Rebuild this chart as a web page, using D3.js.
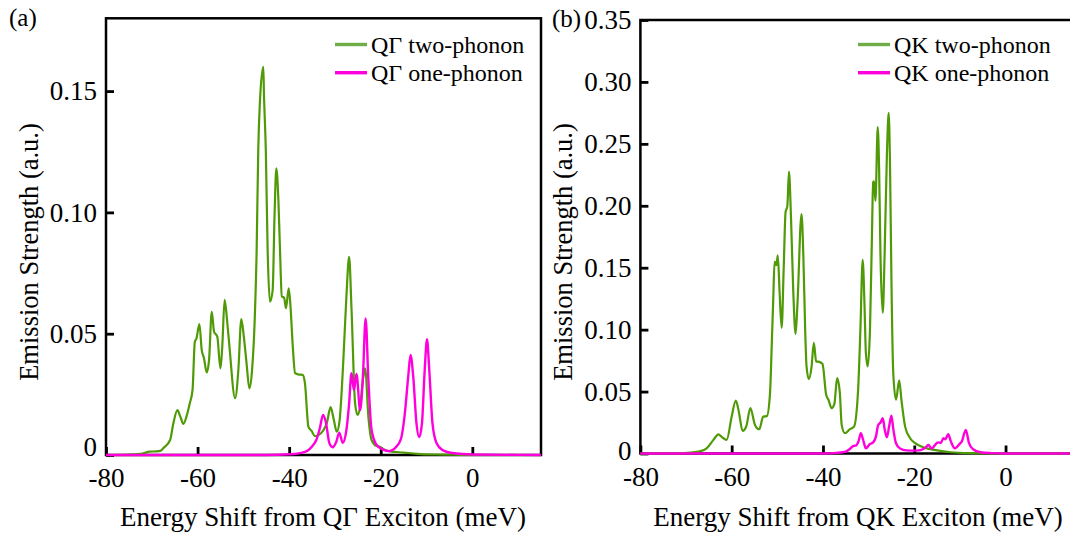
<!DOCTYPE html>
<html>
<head>
<meta charset="utf-8">
<script src="https://cdn.jsdelivr.net/npm/d3@7"></script>
<style>
  body { margin: 0; background: #fff; }
  svg text { font-family: "Liberation Serif", "DejaVu Serif", "Noto Serif", serif; }
</style>
</head>
<body>
<script>
const width = 1070;
const height = 537;

// energy shift (meV), emission strength (a.u.)
const gammaTwoPhonon = [
  [-80, 0], [-75, 0.0002], [-72, 0.0006], [-70.5, 0.0014], [-69, 0.0015], [-68, 0.0018],
  [-67.5, 0.0028], [-66, 0.0062], [-65.3, 0.013], [-64.4, 0.0185], [-63.8, 0.016], [-63.1, 0.0128],
  [-62.4, 0.016], [-61.7, 0.0213], [-61.1, 0.0268], [-60.6, 0.0467], [-60.25, 0.048], [-59.6, 0.054],
  [-59.1, 0.0433], [-58.6, 0.0399], [-58.0, 0.034], [-57.5, 0.039], [-56.9, 0.059], [-56.4, 0.0508],
  [-55.7, 0.0488], [-55.0, 0.0357], [-54.6, 0.045], [-54.1, 0.0639], [-53.5, 0.0543], [-53.1, 0.046],
  [-51.8, 0.0234], [-51.1, 0.035], [-50.45, 0.056], [-49.9, 0.0488], [-49.3, 0.0378], [-48.7, 0.0275],
  [-48.1, 0.0351], [-47.5, 0.057], [-47.1, 0.0845], [-46.75, 0.1257], [-46.4, 0.145], [-45.65, 0.160],
  [-45.5, 0.1485], [-45.1, 0.1257], [-44.7, 0.0845], [-44.2, 0.0632], [-43.6, 0.068], [-43.2, 0.0982],
  [-42.8, 0.1182], [-42.35, 0.105], [-42.0, 0.0845], [-41.6, 0.0653], [-41.1, 0.0648], [-40.7, 0.0605],
  [-40.1, 0.0687], [-39.7, 0.0611], [-39.25, 0.046], [-38.7, 0.0337], [-38.0, 0.0332], [-37.05, 0.033],
  [-36.55, 0.0295], [-35.8, 0.0117], [-35.1, 0.0099], [-34.4, 0.0078], [-33.6, 0.0082], [-32.6, 0.01],
  [-31.8, 0.013], [-30.95, 0.0197], [-30.3, 0.015], [-29.6, 0.0096], [-29.0, 0.014], [-28.2, 0.0378],
  [-27.5, 0.0653], [-26.9, 0.0817], [-26.4, 0.0611], [-25.6, 0.0213], [-25.05, 0.0165], [-24.5, 0.02],
  [-23.8, 0.0323], [-23.4, 0.0357], [-22.7, 0.0158], [-22.0, 0.0062], [-20.9, 0.0037], [-20.2, 0.0034],
  [-19.5, 0.0025], [-18, 0.0015], [-15, 0.001], [-12, 0.0005], [-8, 0.0002], [-4, 0.0001], [0, 0], [15, 0]
];

const gammaOnePhonon = [
  [-80, 0], [-45, 0], [-40, 0.0003], [-37.6, 0.0008], [-36, 0.0018], [-35, 0.0035], [-34, 0.0065],
  [-33.3, 0.011], [-32.6, 0.0165], [-32.0, 0.0137], [-31.2, 0.0048], [-30.5, 0.0032], [-29.7, 0.0055],
  [-29.05, 0.0092], [-28.3, 0.005], [-27.5, 0.0103], [-26.9, 0.0213], [-26.4, 0.0337], [-25.85, 0.0268],
  [-25.3, 0.0334], [-24.5, 0.0185], [-23.9, 0.032], [-23.3, 0.0563], [-22.7, 0.031], [-22.0, 0.0103],
  [-20.9, 0.0041], [-19.5, 0.0022], [-18.2, 0.0016], [-16.8, 0.003], [-15.6, 0.0065], [-14.8, 0.016],
  [-14.0, 0.0323], [-13.5, 0.0412], [-12.9, 0.0323], [-12.2, 0.0131], [-11.6, 0.0073], [-11.0, 0.013],
  [-10.4, 0.035], [-9.9, 0.0477], [-9.4, 0.035], [-8.7, 0.013], [-7.8, 0.0048], [-6.5, 0.002],
  [-4, 0.0007], [0, 0.0002], [15, 0]
];

const kTwoPhonon = [
  [-80, 0], [-72, 0.0002], [-69, 0.0008], [-67, 0.0018], [-65.5, 0.0042], [-64, 0.011], [-62.9, 0.0155],
  [-62.2, 0.0135], [-61.1, 0.011], [-60, 0.0298], [-59.1, 0.0428], [-58.5, 0.035], [-57.6, 0.0182],
  [-56.8, 0.022], [-55.9, 0.0366], [-54.9, 0.0231], [-53.95, 0.0196], [-53.1, 0.0298], [-52.3, 0.0302],
  [-51.6, 0.0488], [-51.2, 0.09], [-50.9, 0.124], [-50.6, 0.155], [-50.2, 0.152], [-49.9, 0.16],
  [-49.5, 0.13], [-49.05, 0.1015], [-48.6, 0.15], [-48.2, 0.1946], [-47.8, 0.2], [-47.45, 0.2276],
  [-47.0, 0.19], [-46.5, 0.13], [-46.0, 0.0965], [-45.6, 0.12], [-44.7, 0.1933], [-44.3, 0.16],
  [-43.9, 0.1], [-43.6, 0.0703], [-43.1, 0.0601], [-42.5, 0.07], [-42.0, 0.0893], [-41.5, 0.0744],
  [-40.8, 0.074], [-40.1, 0.0723], [-39.3, 0.0474], [-38.8, 0.0434], [-38.1, 0.0366], [-37.5, 0.04],
  [-36.9, 0.0609], [-36.3, 0.0488], [-35.9, 0.0231], [-35.2, 0.0164], [-34.1, 0.0196], [-33.2, 0.0217],
  [-32.3, 0.0515], [-31.8, 0.1], [-31.3, 0.1563], [-30.9, 0.12], [-30.6, 0.0812], [-30.2, 0.0703],
  [-29.7, 0.1], [-29.3, 0.17], [-29.0, 0.219], [-28.8, 0.2197], [-28.5, 0.204], [-28.0, 0.2635],
  [-27.7, 0.23], [-27.4, 0.16], [-26.9, 0.1136], [-26.5, 0.16], [-26.0, 0.24], [-25.6, 0.275],
  [-25.3, 0.23], [-25.0, 0.14], [-24.6, 0.065], [-24.0, 0.0434], [-23.3, 0.059], [-22.8, 0.043],
  [-22, 0.0217], [-20.9, 0.0123], [-19.8, 0.0083], [-18, 0.005], [-15, 0.0025], [-12, 0.001],
  [-8, 0.0003], [0, 0], [15, 0]
];

const kOnePhonon = [
  [-80, 0], [-40, 0], [-37, 0.0005], [-35, 0.0015], [-34.2, 0.0034], [-33.4, 0.006], [-32.7, 0.0066],
  [-32.2, 0.01], [-31.7, 0.0164], [-31.2, 0.011], [-30.6, 0.0042], [-29.7, 0.0077], [-29.0, 0.009],
  [-28.4, 0.0136], [-27.9, 0.023], [-27.4, 0.025], [-26.9, 0.0285], [-26.5, 0.02], [-26.0, 0.0131],
  [-25.5, 0.022], [-25.0, 0.0306], [-24.6, 0.02], [-24, 0.0083], [-23.1, 0.004], [-21.7, 0.0025],
  [-19.5, 0.0023], [-17.7, 0.0042], [-16.9, 0.0069], [-16.2, 0.004], [-15.1, 0.0083], [-14.7, 0.009],
  [-14.2, 0.0085], [-13.6, 0.0123], [-13.2, 0.0115], [-12.55, 0.0155], [-12.0, 0.01], [-11.1, 0.0042],
  [-10.0, 0.008], [-9.6, 0.0096], [-8.7, 0.019], [-8.0, 0.0083], [-7.1, 0.0034], [-5.5, 0.001],
  [-3, 0.0003], [0, 0], [15, 0]
];

const xDomain = [-80, 15];
const xTicks = [-80, -60, -40, -20, 0];
const gammaYTicks = [0, 0.05, 0.10, 0.15];
const kYTicks = [0, 0.05, 0.10, 0.15, 0.20, 0.25, 0.30, 0.35];

const serif = '"Liberation Serif", "DejaVu Serif", "Noto Serif", serif';
const green = "#4f9a06";
const greenLegend = "#70ad47";
const magenta = "#ff00dd";

const svg = d3
  .select("body")
  .append("svg")
  .attr("width", width)
  .attr("height", height)
  .attr("font-family", serif)
  .style("background-color", "white");

drawPanel({
  tag: "(a)", tagX: 9, tagY: 26,
  left: 106, right: 541, top: 18.3, bottom: 455,
  yMax: 0.18, yTicks: gammaYTicks, raiseZero: 8,
  yTitleX: 38, xTitleX: 323,
  legendX: 335,
  names: ["QΓ two-phonon", "QΓ one-phonon"],
  xTitle: "Energy Shift from QΓ Exciton (meV)",
  two: gammaTwoPhonon, one: gammaOnePhonon
});

drawPanel({
  tag: "(b)", tagX: 552, tagY: 27,
  left: 640.4, right: 1074, top: 20, bottom: 453.5,
  yMax: 0.35, yTicks: kYTicks, raiseZero: 3,
  yTitleX: 572, xTitleX: 858,
  legendX: 858,
  names: ["QK two-phonon", "QK one-phonon"],
  xTitle: "Energy Shift from QK Exciton (meV)",
  two: kTwoPhonon, one: kOnePhonon
});

function drawPanel(p) {
  const x = d3.scaleLinear().domain(xDomain).range([p.left, p.right]);
  const y = d3.scaleLinear().domain([0, p.yMax]).range([p.bottom, p.top]);
  const g = svg.append("g");

  // frame
  g.append("rect")
    .attr("x", p.left)
    .attr("y", p.top)
    .attr("width", p.right - p.left)
    .attr("height", p.bottom - p.top)
    .attr("fill", "none")
    .attr("stroke", "black")
    .attr("stroke-width", 2.5);

  const xAxis = g
    .append("g")
    .attr("transform", `translate(0, ${p.bottom})`)
    .call(
      d3.axisBottom(x)
        .tickValues(xTicks)
        .tickSize(-8)
        .tickPadding(13)
        .tickFormat((d) => String(d))
    );

  const yAxis = g
    .append("g")
    .attr("transform", `translate(${p.left}, 0)`)
    .call(
      d3.axisLeft(y)
        .tickValues(p.yTicks)
        .tickSize(-8)
        .tickPadding(9)
        .tickFormat((d) => (d === 0 ? "0" : d3.format(".2f")(d)))
    );

  [xAxis, yAxis].forEach((ax) => {
    ax.attr("font-family", serif).attr("font-size", 27);
    ax.select(".domain").remove();
    ax.selectAll(".tick line").attr("stroke", "black").attr("stroke-width", 2.8);
    ax.selectAll(".tick text").attr("fill", "black");
  });

  yAxis
    .selectAll(".tick text")
    .filter((d) => d === 0)
    .attr("y", -p.raiseZero);

  // curves
  const line = d3
    .line()
    .x((d) => x(d[0]))
    .y((d) => y(d[1]))
    .curve(d3.curveMonotoneX);

  g.append("path")
    .datum(p.two)
    .attr("d", line)
    .attr("fill", "none")
    .attr("stroke", green)
    .attr("stroke-width", 2.2);

  g.append("path")
    .datum(p.one)
    .attr("d", line)
    .attr("fill", "none")
    .attr("stroke", magenta)
    .attr("stroke-width", 2.4);

  // legend
  const legend = g.append("g");
  [greenLegend, magenta].forEach((c, i) => {
    const ly = 44.5 + i * 28.2;
    legend.append("line")
      .attr("x1", p.legendX)
      .attr("x2", p.legendX + 32)
      .attr("y1", ly)
      .attr("y2", ly)
      .attr("stroke", c)
      .attr("stroke-width", 3.4);
    legend.append("text")
      .attr("x", p.legendX + 36)
      .attr("y", ly + 8)
      .attr("font-size", 24)
      .text(p.names[i]);
  });

  // titles
  g.append("text")
    .attr("x", p.xTitleX)
    .attr("y", 526)
    .attr("text-anchor", "middle")
    .attr("font-size", 27)
    .text(p.xTitle);

  g.append("text")
    .attr("transform", `translate(${p.yTitleX}, 252) rotate(-90)`)
    .attr("text-anchor", "middle")
    .attr("font-size", 26.5)
    .text("Emission Strength (a.u.)");

  g.append("text")
    .attr("x", p.tagX)
    .attr("y", p.tagY)
    .attr("font-size", 25)
    .text(p.tag);
}
</script>
</body>
</html>
